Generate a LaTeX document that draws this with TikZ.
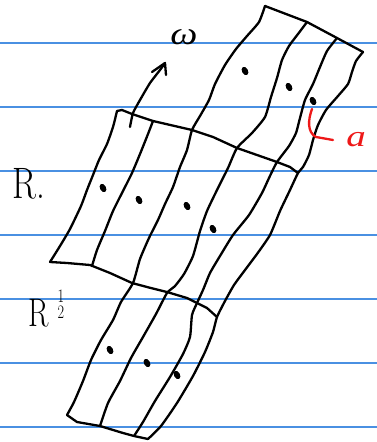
\documentclass[tikz,border=0pt]{standalone}
\usepackage{fontspec}
\newfontfamily\greekhand{Liberation Serif}
\definecolor{ruleblue}{RGB}{74,144,226}
\definecolor{inkred}{RGB}{238,24,24}
\tikzset{
  ink/.style={line width=2.3pt, line cap=round, line join=round, black},
  wavy/.style={ink, smooth, tension=0.35},
  ruling/.style={line width=1.4pt, color=ruleblue},
  redpen/.style={line width=2.3pt, line cap=round, line join=round, color=inkred},
  inkdot/.style={fill=black, draw=none},
  hand/.style={inner sep=0pt, anchor=center},
}
\begin{document}
\begin{tikzpicture}[x=1pt,y=-1pt]
\useasboundingbox (0,0) rectangle (377,442);
\fill[white] (0,0) rectangle (377,442);
% ruled paper
\foreach \yy in {43,107,171,235,299,363,427} \draw[ruling] (0,\yy) -- (377,\yy);

% top strip: top edge
\draw[ink] (265,6) -- (307,22) -- (322,30) -- (337,38) -- (363,52);
% long lines running through strips
\draw[wavy] plot coordinates {(265,6) (259,22) (247,36) (236,49) (225,65) (215,84) (209,100) (200,116) (192,130) (187,150) (180,167) (173,187) (165,204) (158,220) (149,238) (140,259) (133,283) (121,302) (113,320) (101,340) (91,360) (83,381) (74,402) (67,415)};
\draw[wavy] plot coordinates {(307,22) (298,34) (289,46) (282,60) (277,78) (271,97) (265,117) (252,133) (237,148) (228,168) (217,190) (207,211) (200,231) (193,256) (184,274) (175,286) (167,293) (156,314) (143,337) (131,358) (120,381) (108,403) (100,426)};
\draw[wavy] plot coordinates {(337,38) (327,51) (320,67) (313,84) (305,100) (300,118) (296,133) (289,146) (277,162) (269,178) (262,193) (249,215) (233,235) (220,256) (210,273) (203,290) (197,303) (192,315) (190,337) (183,354) (170,377) (155,401) (143,422) (134,436)};
\draw[wavy] plot coordinates {(363,52) (356,61) (352,72) (348,84) (338,96) (326,110) (318,125) (313,140) (309,155) (303,167) (298,173) (290,190) (280,211) (270,235) (257,254) (245,270) (234,285) (225,301) (217,317) (213,332) (205,352) (193,376) (177,403) (161,426) (148,439)};

% middle strip
\draw[ink] (117,111) -- (122,110) -- (132,114) -- (153,121) -- (192,130) -- (213,137) -- (237,148) -- (257,155) -- (277,162) -- (290,167) -- (298,173);
\draw[wavy] plot coordinates {(117,111) (113,127) (107,144) (99,160) (93,175) (87,190) (81,206) (70,229) (60,246) (50,262)};
\draw[wavy] plot coordinates {(153,121) (148,134) (140,154) (132,173) (123,191) (113,211) (105,231) (97,250) (92,266)};
\draw[ink] (50,262) -- (67,263) -- (90,265) -- (110,273) -- (132,283) -- (147,287) -- (167,292) -- (187,298) -- (197,303) -- (207,308) -- (217,317);

% bottom strip bottom edge
\draw[ink] (67,415) -- (77,422) -- (100,426) -- (123,433) -- (134,436) -- (148,439);

% dots
\foreach \px/\py in {245/71, 289/87, 313/101, 103/188, 139/200, 187/206, 213/229, 110/350, 147/363, 177/375}
  \fill[inkdot, rotate around={-60:(\px,\py)}] (\px,\py) ellipse (4.4pt and 3pt);

% arrow
\draw[wavy] plot coordinates {(130,127) (133,113) (140,100) (150,83) (160,70) (165,63)};
\draw[ink] (152,72) -- (165,63) -- (166,75);

% labels
\node[hand, xscale=1.2] (omega) at (184,37) {\fontsize{32}{32}\selectfont\greekhand\itshape ω};
\node[hand, xscale=0.8] (rlabel) at (29,184) {\fontsize{44}{44}\selectfont R.};
\node[hand, xscale=0.75, anchor=base west] (rhalf) at (28,326) {\fontsize{40}{40}\selectfont R\hspace{12pt}\raisebox{8pt}{\fontsize{19}{27}\selectfont\shortstack{1\\2}}};

% red annotation
\draw[redpen] (312,109) .. controls (308,120) and (307,132) .. (316,137) -- (333,140);
\node[hand, xscale=1.3, text=inkred] (alabel) at (356,140) {\fontsize{30}{30}\selectfont\greekhand\itshape a};
\end{tikzpicture}
\end{document}
